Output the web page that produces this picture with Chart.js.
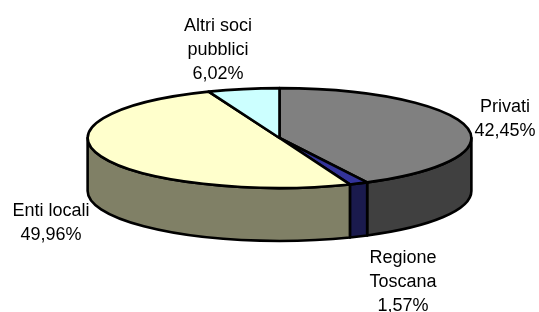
<!DOCTYPE html>
<html>
<head>
<meta charset="utf-8">
<script src="https://cdn.jsdelivr.net/npm/chart.js@4/dist/chart.umd.min.js"></script>
<style>
  html, body { margin: 0; padding: 0; background: #fff; }
  canvas { display: block; }
</style>
</head>
<body>
<canvas id="pie" width="539" height="312"></canvas>
<script>
// data
const categories = [['Privati'], ['Regione', 'Toscana'], ['Enti locali'], ['Altri soci', 'pubblici']];
const shares = [42.45, 1.57, 49.96, 6.02];
const topColors = ['#808080', '#333399', '#FFFFCC', '#CCFFFF'];
const sideColors = ['#404040', '#1A1A4D', '#808066', '#668080'];

// where each label block sits (center x, first baseline)
const labelSpots = [[505, 112], [403, 263], [51, 216], [218, 31]];

// squash the flat pie into a tilted disc
const pie3d = {
  id: 'pie3d',
  beforeDatasetsDraw(chart) {
    const arcs = chart.getDatasetMeta(0).data;
    const ctx = chart.ctx;
    const r = arcs[0].outerRadius;
    const cx = arcs[0].x;
    const cy = arcs[0].y - 18;
    const rx = r * 1.23, ry = r * 0.32, depth = r * 0.34;

    ctx.save();
    ctx.lineWidth = 2.6;
    ctx.strokeStyle = '#000';
    ctx.lineJoin = 'round';

    // front wall
    arcs.forEach((arc, i) => {
      const a = Math.max(arc.startAngle, 0);
      const b = Math.min(arc.endAngle, Math.PI);
      if (b <= a) return;
      ctx.beginPath();
      ctx.ellipse(cx, cy, rx, ry, 0, a, b);
      ctx.lineTo(cx + rx * Math.cos(b), cy + ry * Math.sin(b) + depth);
      ctx.ellipse(cx, cy + depth, rx, ry, 0, b, a, true);
      ctx.closePath();
      ctx.fillStyle = sideColors[i];
      ctx.fill();
      ctx.stroke();
    });

    // top face
    arcs.forEach((arc, i) => {
      ctx.beginPath();
      ctx.moveTo(cx, cy);
      ctx.ellipse(cx, cy, rx, ry, 0, arc.startAngle, arc.endAngle);
      ctx.closePath();
      ctx.fillStyle = topColors[i];
      ctx.fill();
      ctx.stroke();
    });
    ctx.restore();
    return false;
  },
  afterDraw(chart) {
    const ctx = chart.ctx;
    ctx.save();
    ctx.font = '18px "Liberation Sans", Arial, sans-serif';
    ctx.fillStyle = '#000';
    ctx.textAlign = 'center';
    ctx.textBaseline = 'alphabetic';
    categories.forEach((lines, i) => {
      const all = lines.concat([shares[i].toFixed(2).replace('.', ',') + '%']);
      const [x, y] = labelSpots[i];
      all.forEach((t, j) => ctx.fillText(t, x, y + j * 24));
    });
    ctx.restore();
  }
};

new Chart(document.getElementById('pie'), {
  type: 'pie',
  data: {
    labels: categories.map(c => c.join(' ')),
    datasets: [{
      data: shares,
      backgroundColor: topColors,
      borderWidth: 0
    }]
  },
  options: {
    responsive: false,
    animation: false,
    layout: { padding: { left: 20, right: 0, top: 0, bottom: 0 } },
    plugins: { legend: { display: false }, tooltip: { enabled: false } }
  },
  plugins: [pie3d]
});
</script>
</body>
</html>
